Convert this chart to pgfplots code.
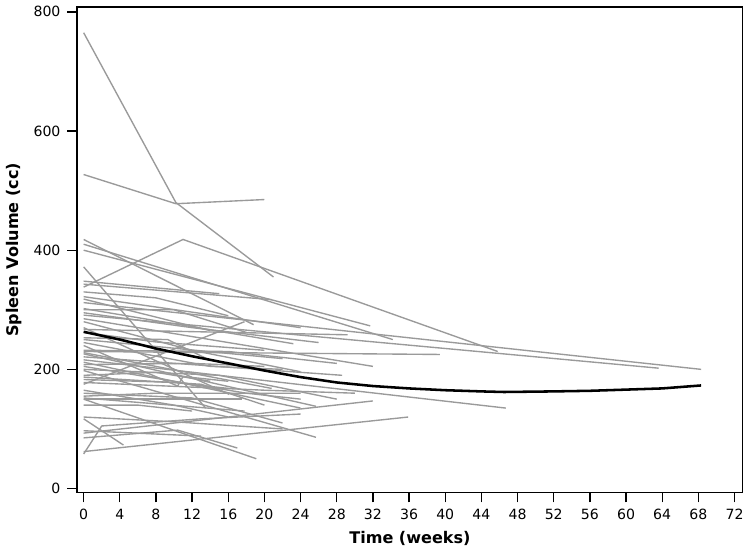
\documentclass[border=0pt]{standalone}
\usepackage{fontspec}
\setmainfont{DejaVu Sans}
\usepackage{pgfplots}
\pgfplotsset{compat=1.18}
\definecolor{lg}{HTML}{9A9A9A}
\pgfplotsset{ind/.style={lg, solid, line width=0.7pt, mark=none}}
\begin{document}
\begin{tikzpicture}
\begin{axis}[
  scale only axis,
  width=340pt, height=248pt,
  xmin=-0.72, xmax=72.9, ymin=-6.7, ymax=808,
  xtick={0,4,...,72}, ytick={0,200,...,800},
  tick align=outside, tick pos=left,
  major tick length=5pt,
  every tick/.style={black, line width=0.7pt},
  axis line style={line width=0.75pt},
  /pgf/number format/assume math mode=true,
  tick label style={font=\fontsize{7.2}{8}\selectfont},
  xlabel={\bfseries Time (weeks)},
  ylabel={\bfseries Spleen Volume (cc)},
  label style={font=\fontsize{8.2}{9}\selectfont},
  xlabel style={yshift=1pt},
  ylabel style={yshift=-1pt},
]
\addplot[ind] coordinates {(0,765) (10.2,480) (21,355)};
\addplot[ind] coordinates {(0,527) (10.2,478) (20,485)};
\addplot[ind] coordinates {(0,338) (11,418) (45.8,230)};
\addplot[ind] coordinates {(0,418) (18.8,275)};
\addplot[ind] coordinates {(0,410) (34.2,250)};
\addplot[ind] coordinates {(0,400) (31.7,273)};
\addplot[ind] coordinates {(0,372) (13.5,135)};
\addplot[ind] coordinates {(0,348) (15,327)};
\addplot[ind] coordinates {(0,343) (20.8,317)};
\addplot[ind] coordinates {(0,312) (68.3,200)};
\addplot[ind] coordinates {(0,291) (63.6,202)};
\addplot[ind] coordinates {(0,267) (29.2,258)};
\addplot[ind] coordinates {(0,302) (23.2,243)};
\addplot[ind] coordinates {(0,285) (32,205)};
\addplot[ind] coordinates {(0,230) (39.4,225)};
\addplot[ind] coordinates {(0,221) (28.6,190)};
\addplot[ind] coordinates {(0,250) (22,218)};
\addplot[ind] coordinates {(0,216) (46.7,135)};
\addplot[ind] coordinates {(0,228) (20.8,168)};
\addplot[ind] coordinates {(0,270) (16.1,158)};
\addplot[ind] coordinates {(0,226) (25.7,138)};
\addplot[ind] coordinates {(0,212) (24,135)};
\addplot[ind] coordinates {(0,150) (17.5,150)};
\addplot[ind] coordinates {(0,175) (17.8,280)};
\addplot[ind] coordinates {(0,198) (25.7,86)};
\addplot[ind] coordinates {(0,150) (19.1,50)};
\addplot[ind] coordinates {(0,117) (4.4,73)};
\addplot[ind] coordinates {(0,93) (32,147)};
\addplot[ind] coordinates {(0,62) (35.9,120)};
\addplot[ind] coordinates {(0,85) (10.4,98) (17,68)};
\addplot[ind] coordinates {(0,58) (2,105) (13,117) (24,125)};
\addplot[ind] coordinates {(0,152) (17.8,130)};
\addplot[ind] coordinates {(0,187) (13,175) (20,140)};
\addplot[ind] coordinates {(0,208) (12,210) (20,205)};
\addplot[ind] coordinates {(0,183) (10,178) (16,168)};
\addplot[ind] coordinates {(0,253) (9.3,250) (14,215)};
\addplot[ind] coordinates {(0,318) (14,265)};
\addplot[ind] coordinates {(0,240) (10.4,172) (11,188) (16,180)};
\addplot[ind] coordinates {(0,97) (13,88)};
\addplot[ind] coordinates {(0,280) (12,232) (24,196)};
\addplot[ind] coordinates {(0,300) (10,300) (18,262)};
\addplot[ind] coordinates {(0,262) (8,246) (20,232)};
\addplot[ind] coordinates {(0,200) (15,190) (28,150)};
\addplot[ind] coordinates {(0,160) (12,152) (22,110)};
\addplot[ind] coordinates {(0,330) (8,320) (16,290)};
\addplot[ind] coordinates {(0,322) (24,270)};
\addplot[ind] coordinates {(0,295) (12,270) (26,245)};
\addplot[ind] coordinates {(0,245) (14,205) (22,200)};
\addplot[ind] coordinates {(0,205) (18,160) (24,150)};
\addplot[ind] coordinates {(0,190) (8,195) (14,180)};
\addplot[ind] coordinates {(0,178) (20,165) (30,160)};
\addplot[ind] coordinates {(0,165) (10,140) (16,120)};
\addplot[ind] coordinates {(0,140) (6,140) (12,130)};
\addplot[ind] coordinates {(0,120) (10,112) (22,100)};
\addplot[ind] coordinates {(0,232) (16,230) (28,210)};
\addplot[ind] coordinates {(0,155) (8,160) (24,160)};
\addplot[black, solid, line width=1.3pt, mark=none] coordinates {(0,263) (4,250) (8,235) (12,222) (16,210) (20,198) (24,187) (28,178) (32,172) (36,168) (40,165) (44,163) (46.5,162) (52,163) (56,164) (60,166) (64,168) (68.3,173)};
\end{axis}
\end{tikzpicture}
\end{document}
